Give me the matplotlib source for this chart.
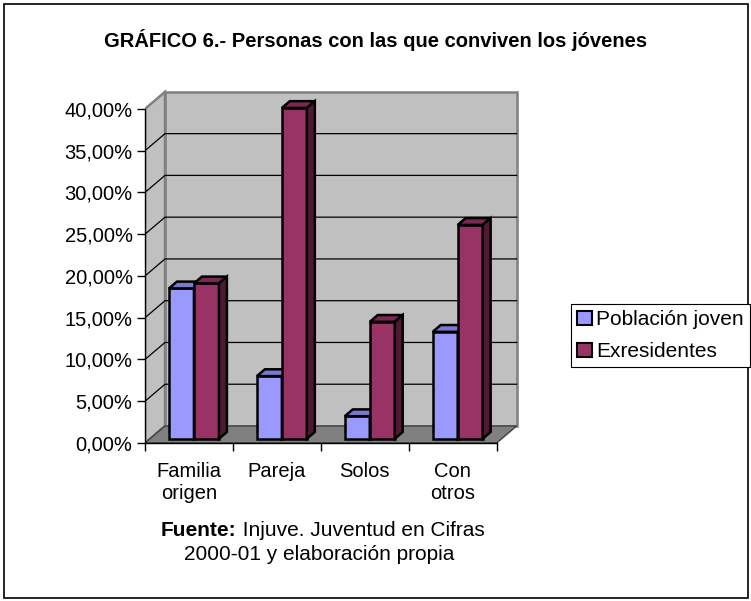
import numpy as np
import matplotlib
matplotlib.use('Agg')
import matplotlib.pyplot as plt
from matplotlib.patches import Polygon, Patch, Rectangle

plt.rcParams['font.family'] = ['Liberation Sans', 'DejaVu Sans']

# data (percent)
categorias = ['Familia\norigen', 'Pareja', 'Solos', 'Con\notros']
series = ['Población joven', 'Exresidentes']
poblacion_joven = [18.0, 7.5, 2.7, 12.8]
exresidentes = [18.6, 39.6, 14.0, 25.6]
yticks = np.arange(0, 45, 5)

# colours: front, top, side
azul = ('#9999FF', '#7A7ACC', '#4D4D80')
granate = ('#993366', '#7A2952', '#4D1933')

# oblique depth of the walls, in data units
DX, DY = 0.2275, 2.036
n = len(categorias)
ymax = yticks[-1]

W, H = 751, 601
fig = plt.figure(figsize=(W / 100, H / 100), dpi=100)
ax = fig.add_axes([145 / W, 158 / H, 378 / W, 355 / H])
ax.set_xlim(0, 4.3)
ax.set_ylim(0, 42.5)
ax.patch.set_visible(False)

# walls and floor
ax.add_patch(Polygon([(DX, DY), (n + DX, DY), (n + DX, ymax + DY), (DX, ymax + DY)],
                     fc='#C0C0C0', ec='#808080', lw=1.8, zorder=1))
ax.add_patch(Polygon([(0, 0), (DX, DY), (DX, ymax + DY), (0, ymax)],
                     fc='#C0C0C0', ec='#808080', lw=1.8, zorder=1))
ax.add_patch(Polygon([(0, 0), (n, 0), (n + DX, DY), (DX, DY)],
                     fc='#808080', ec='#404040', lw=1, zorder=1.5))
for v in yticks[1:-1]:
    ax.plot([0, DX, n + DX], [v, v + DY, v + DY], color='black', lw=0.9, zorder=2)

# 3d-looking bars
ancho = 0.284
inicio = 0.216
f0, prof = 0.25, 0.4
ddx, ddy = prof * DX, prof * DY
y0 = f0 * DY
for k, (vals, cols) in enumerate([(poblacion_joven, azul), (exresidentes, granate)]):
    x0 = np.arange(n) + inicio + k * ancho + f0 * DX
    ax.bar(x0, vals, width=ancho, bottom=y0, align='edge', color=cols[0],
           edgecolor='black', lw=1.8, zorder=3 + k)
    for xi, v in zip(x0, vals):
        top = y0 + v
        ax.add_patch(Polygon([(xi, top), (xi + ancho, top), (xi + ancho + ddx, top + ddy),
                              (xi + ddx, top + ddy)], fc=cols[1], ec='black', lw=1.8, zorder=3 + k))
        ax.add_patch(Polygon([(xi + ancho, y0), (xi + ancho + ddx, y0 + ddy),
                              (xi + ancho + ddx, top + ddy), (xi + ancho, top)],
                             fc=cols[2], ec='black', lw=1.8, zorder=3 + k))

# axes
for s in ['top', 'right']:
    ax.spines[s].set_visible(False)
ax.spines['left'].set_bounds(0, ymax)
ax.spines['bottom'].set_bounds(0, n)
for s in ['left', 'bottom']:
    ax.spines[s].set_zorder(5)
    ax.spines[s].set_linewidth(1.0)

ax.set_yticks(yticks)
ax.set_yticklabels([f'{v:.2f}%'.replace('.', ',') for v in yticks])
ax.tick_params(axis='y', length=6, width=1, pad=3, labelsize=14.5)
ax.set_xticks(np.arange(n + 1))
ax.set_xticklabels([])
ax.tick_params(axis='x', which='major', length=6, width=1)
ax.set_xticks(np.arange(n) + 0.5, minor=True)
ax.set_xticklabels(categorias, minor=True)
ax.tick_params(axis='x', which='minor', length=0, pad=13.5, labelsize=14.5)

# legend
handles = [Patch(fc=azul[0], ec='black', lw=1.5), Patch(fc=granate[0], ec='black', lw=1.5)]
leg = fig.legend(handles, series, loc='upper left', bbox_to_anchor=(571 / W, 1 - 304 / H),
                 frameon=True, fancybox=False, edgecolor='black', framealpha=1, fontsize=15,
                 handlelength=0.7, handleheight=0.7, handletextpad=0.2, borderpad=0.3,
                 labelspacing=0.62, borderaxespad=0)
leg.get_frame().set_linewidth(0.8)

# title and source
fig.text(0.5, 1 - 40 / H, 'GRÁFICO 6.- Personas con las que conviven los jóvenes',
         ha='center', va='center', fontsize=14.5, fontweight='bold')
t1 = fig.text(161 / W, 1 - 536 / H, 'Fuente:', ha='left', va='baseline',
              fontsize=15, fontweight='bold')
ax.annotate(' Injuve. Juventud en Cifras', xy=(1, 0), xycoords=t1, ha='left', va='bottom',
            fontsize=15, annotation_clip=False)
fig.text(319 / W, 1 - 560 / H, '2000-01 y elaboración propia', ha='center', va='baseline',
         fontsize=15)

# outer frame
fig.add_artist(Rectangle((3.5 / W, 3.5 / H), 744 / W, 594 / H, fill=False, ec='black',
                         lw=1.2, transform=fig.transFigure))

fig.savefig('out.png', dpi=100)
